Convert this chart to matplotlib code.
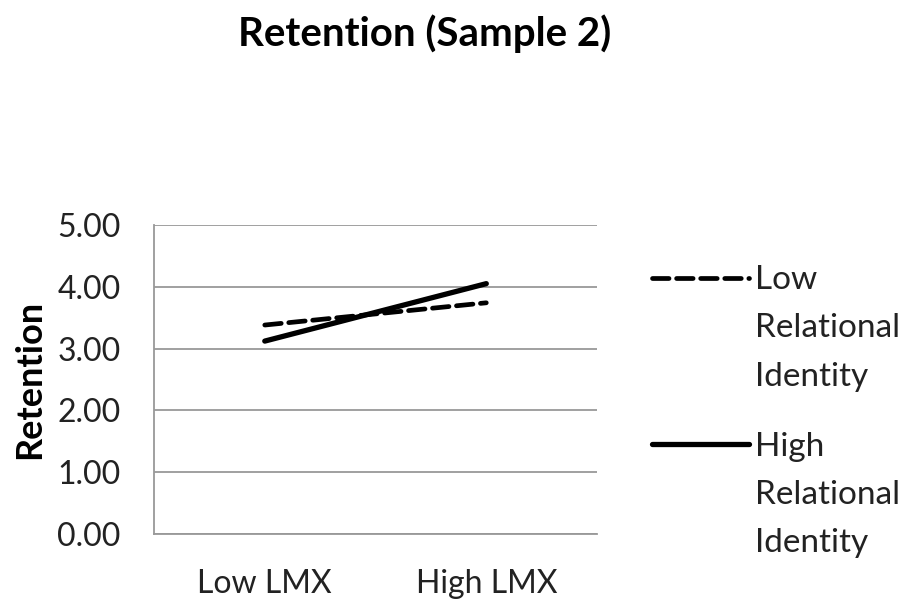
import matplotlib.pyplot as plt
from matplotlib.legend_handler import HandlerLine2D
import numpy as np

categories = ["Low LMX", "High LMX"]
low_ri = [3.38, 3.74]
high_ri = [3.12, 4.05]
yticks = [0, 1, 2, 3, 4, 5]

plt.rcParams['font.family'] = ['Lato', 'DejaVu Sans']


class TopLineHandler(HandlerLine2D):
    # put the legend key next to the first text line, not the middle one
    def create_artists(self, legend, orig_handle, xdescent, ydescent,
                       width, height, fontsize, trans):
        arts = super().create_artists(legend, orig_handle, xdescent, ydescent,
                                      width, height, fontsize, trans)
        for a in arts:
            a.set_ydata(np.asarray(a.get_ydata()) + 1.53 * fontsize)
        return arts


fig = plt.figure(figsize=(9.06, 6.08), dpi=100)
ax = fig.add_axes([0.170, 0.122, 0.489, 0.508])

x = np.arange(len(categories))
ax.plot(x, low_ri, color='black', lw=3.4, linestyle=(0, (3.5, 1.6)),
        dash_capstyle='round', solid_capstyle='round', label='Low\nRelational\nIdentity')
ax.plot(x, high_ri, color='black', lw=3.8, solid_capstyle='round',
        label='High\nRelational\nIdentity')

ax.set_xlim(-0.5, 1.5)
ax.set_ylim(0, 5)
ax.set_yticks(yticks)
ax.set_yticklabels([f"{v:.2f}" for v in yticks], fontsize=23, color='#222222')
ax.set_xticks(x)
ax.set_xticklabels(categories, fontsize=23, color='#222222')
ax.tick_params(length=0)
ax.tick_params(axis='y', pad=24)
ax.tick_params(axis='x', pad=25)
ax.grid(axis='y', color='#999999', lw=1.3)
ax.set_axisbelow(True)
for s in ['top', 'right']:
    ax.spines[s].set_visible(False)
for s in ['left', 'bottom']:
    ax.spines[s].set_color('#999999')
    ax.spines[s].set_linewidth(1.3)

ax.set_ylabel("Retention", fontsize=26, fontweight='bold', labelpad=8)

fig.text(0.469, 0.945, "Retention (Sample 2)", fontsize=29, fontweight='bold',
         ha='center', va='center')

leg = ax.legend(loc='upper left', bbox_to_anchor=(1.124, 0.87), frameon=False,
                fontsize=24, handlelength=2.9, handletextpad=0.2,
                labelspacing=1.2, borderaxespad=0, borderpad=0,
                handler_map={plt.Line2D: TopLineHandler()})
for t in leg.get_texts():
    t.set_color('#222222')
    t.set_linespacing(1.76)

fig.savefig("out.png", dpi=100)
